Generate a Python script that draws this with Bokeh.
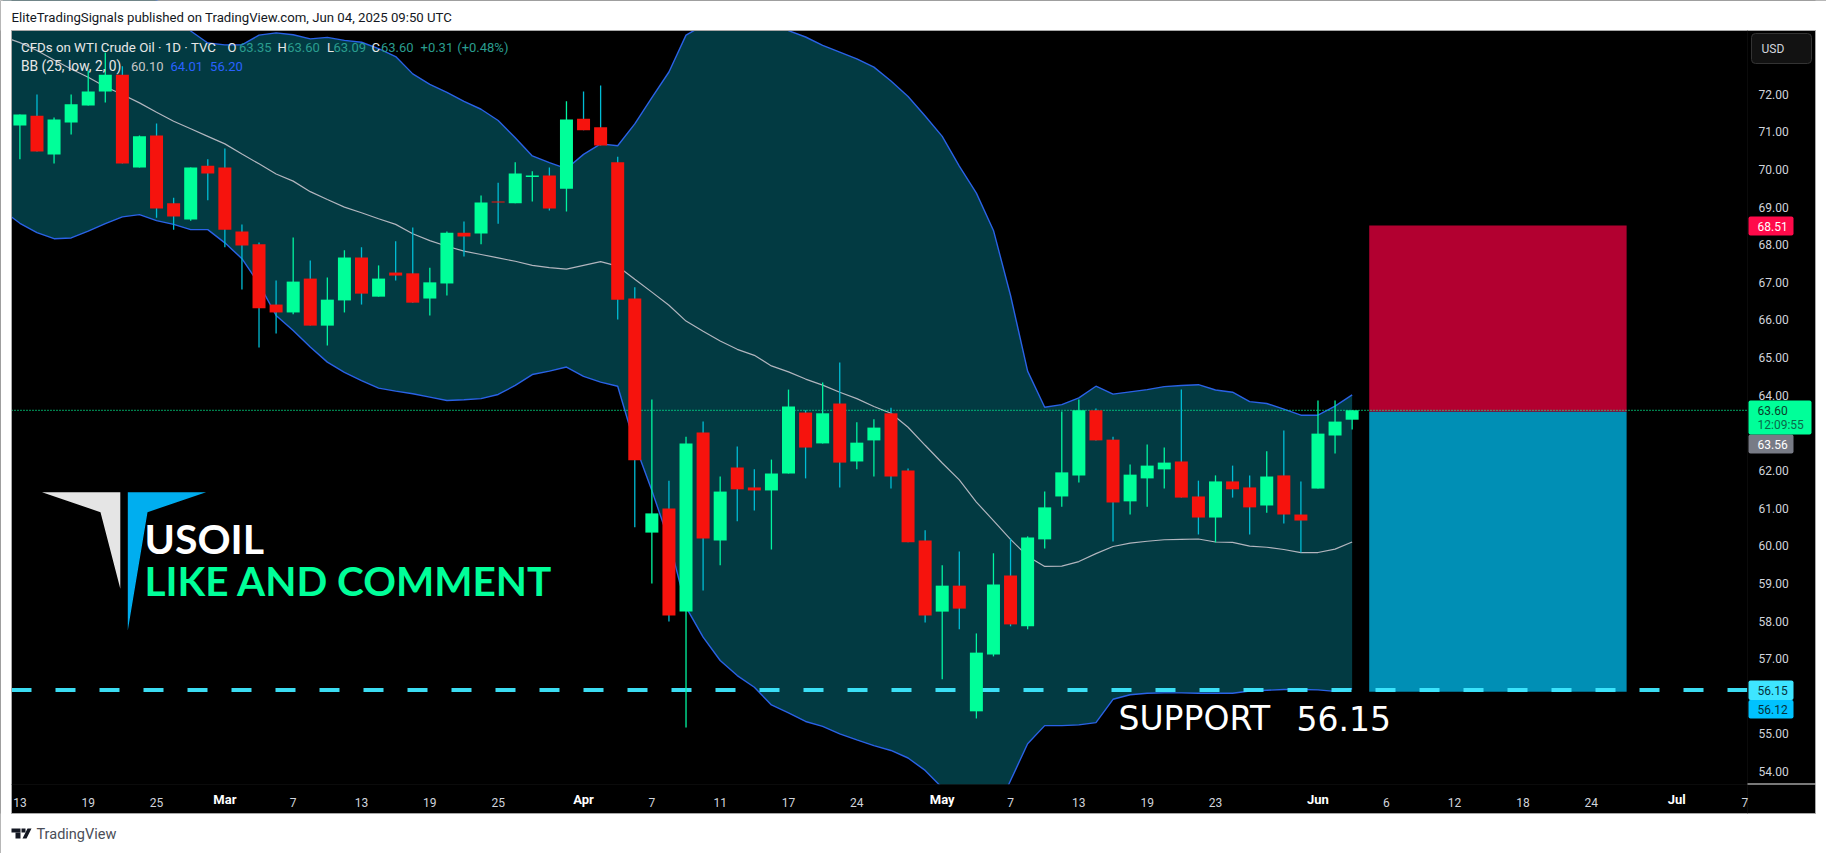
from bokeh.embed import file_html
from bokeh.models import BoxAnnotation, FixedTicker, Label, LinearAxis, PolyAnnotation, Range1d
from bokeh.plotting import figure
from bokeh.resources import INLINE

# candles
opens = [71.17,71.43,70.40,71.25,71.70,72.07,72.52,70.05,70.90,69.10,
         68.67,70.10,70.05,68.35,68.01,66.41,66.20,67.10,65.85,66.52,
         67.66,66.62,67.26,67.24,66.57,66.97,68.32,68.30,69.15,69.10,
         69.80,69.84,69.49,71.35,71.12,70.19,66.57,60.35,60.99,58.25,
         63.01,60.14,62.08,61.55,61.47,61.92,63.54,62.72,63.78,62.24,
         62.80,63.52,62.00,60.14,58.25,58.94,55.60,57.11,59.21,57.86,
         60.17,61.31,61.87,63.60,62.82,61.18,61.79,62.03,62.24,61.31,
         60.75,61.71,61.55,61.07,61.87,60.83,61.52,62.93,63.35]
closes = [71.46,70.48,71.33,71.73,72.07,72.52,70.16,70.88,68.96,68.75,
          70.05,69.89,68.40,67.98,66.31,66.20,67.02,65.85,66.54,67.66,
          66.70,67.10,67.18,66.46,67.00,68.32,68.22,69.12,69.12,69.89,
          69.84,68.96,71.33,71.04,70.64,66.54,62.27,60.86,58.15,62.72,
          60.19,61.44,61.50,61.47,61.92,63.70,62.61,63.52,62.21,62.74,
          63.14,61.84,60.09,58.15,58.94,58.33,57.16,58.97,57.91,60.22,
          61.02,61.95,63.60,62.80,61.15,61.89,62.13,62.21,61.28,60.75,
          61.71,61.50,61.02,61.84,60.83,60.67,62.98,63.30,63.60]
highs = [71.46,71.99,71.38,71.99,72.63,73.11,72.74,70.90,71.22,69.25,
         70.05,70.27,70.56,68.54,68.06,67.05,68.19,67.58,67.13,67.85,
         67.93,67.45,68.09,68.46,67.39,68.35,68.62,69.31,69.65,70.19,
         69.95,70.05,71.81,72.07,72.23,70.34,66.87,63.89,61.73,62.90,
         63.30,61.84,62.64,62.03,62.29,64.15,63.60,64.34,64.87,63.28,
         63.36,63.67,62.05,60.41,59.48,59.85,57.67,59.80,60.19,60.25,
         61.44,63.57,63.89,63.65,62.90,62.16,62.69,62.61,64.15,61.73,
         61.87,62.13,61.87,62.51,63.06,61.71,63.86,63.86,63.60]
lows = [70.27,70.48,70.16,70.93,71.70,71.78,70.16,70.05,68.72,68.40,
        68.64,69.18,67.93,66.81,65.27,65.64,66.15,65.85,65.32,66.20,
        66.41,66.62,67.05,66.46,66.12,66.65,67.69,68.01,68.56,69.10,
        69.15,68.91,68.88,71.04,70.64,66.01,60.49,59.00,57.99,55.17,
        58.81,59.48,60.65,60.94,59.90,61.92,61.79,62.72,61.55,62.03,
        61.84,61.52,60.09,57.96,56.45,57.78,55.41,57.06,57.86,57.78,
        59.93,61.04,61.68,62.80,60.11,60.83,61.04,61.52,61.28,60.30,
        60.09,61.28,60.30,60.88,60.59,59.82,61.52,62.45,63.09]

# bollinger bands start one bar left of the pane
bb_x = list(range(-1, 79))
bb_upper = [75.2,75.2,75.2,75.2,75.2,75.1,75.0,74.9,74.7,74.5,74.1,
            73.68,73.36,73.31,73.31,73.57,73.63,73.58,73.47,73.51,73.43,
            73.38,73.21,73.00,72.54,72.26,72.05,71.81,71.60,71.30,70.84,
            70.36,70.18,70.02,70.40,70.68,70.63,71.21,71.91,72.59,73.57,
            73.83,74.00,74.09,74.09,73.92,73.69,73.52,73.30,73.12,72.94,
            72.72,72.35,71.94,71.42,70.88,70.09,69.37,68.38,66.65,64.64,
            63.68,63.75,63.93,64.24,64.03,64.09,64.15,64.23,64.26,64.28,
            64.14,64.08,63.83,63.78,63.63,63.47,63.47,63.71,64.01]
bb_mid = [73.53,73.37,73.16,72.91,72.67,72.45,72.20,71.99,71.77,71.52,
          71.28,71.08,70.88,70.68,70.41,70.15,69.88,69.69,69.41,69.20,
          69.00,68.85,68.69,68.54,68.29,68.11,67.96,67.83,67.74,67.65,
          67.56,67.45,67.39,67.35,67.45,67.55,67.43,67.08,66.74,66.39,
          65.97,65.70,65.44,65.22,65.06,64.78,64.62,64.43,64.27,64.08,
          63.91,63.70,63.52,63.15,62.67,62.20,61.75,61.16,60.67,60.17,
          59.72,59.45,59.46,59.58,59.79,59.98,60.07,60.12,60.16,60.17,
          60.18,60.10,60.09,59.99,59.96,59.90,59.82,59.82,59.91,60.10]
bb_lower = [68.91,68.57,68.32,68.16,68.18,68.36,68.56,68.74,68.80,68.64,
            68.54,68.40,68.40,68.05,67.63,66.96,66.12,65.72,65.28,64.88,
            64.61,64.39,64.19,64.11,64.04,63.95,63.86,63.88,63.91,64.02,
            64.26,64.55,64.64,64.75,64.50,64.35,64.24,62.70,61.47,60.14,
            58.37,57.57,56.95,56.55,56.24,55.77,55.56,55.33,55.20,55.00,
            54.84,54.69,54.56,54.36,54.03,53.57,53.05,52.61,52.79,53.76,
            54.74,55.22,55.22,55.24,55.30,55.92,56.04,56.08,56.09,56.09,
            56.08,56.08,56.08,56.14,56.16,56.18,56.18,56.17,56.13,56.20]

last_price = 63.60
support = 56.17
stop_level = 68.51
entry_level = 63.56
target_level = 56.12
box_start, box_end = 79, 94.07

price_ticks = [72,71,70,69,68,67,66,65,64,62,61,60,59,58,57,55,54]
day_ticks = {0:"13",4:"19",8:"25",16:"7",20:"13",24:"19",28:"25",37:"7",41:"11",45:"17",49:"24",
             58:"7",62:"13",66:"19",70:"23",80:"6",84:"12",88:"18",92:"24",101:"7"}
month_ticks = {12:"Mar",33:"Apr",54:"May",76:"Jun",97:"Jul"}

# the frame fills the page so overlays can sit anywhere, these are the pane edges as bar / price
PANE_X0, PANE_X1 = -0.492, 101.15
PANE_Y0 = 53.66
W, H = 1826, 853
FONT = "Roboto"

def sx(px):
    return px

def sy(py):
    return H - py

p = figure(width=W, height=H, output_backend="svg", toolbar_location=None,
           x_range=Range1d(-1.136, 105.773), y_range=Range1d(51.822, 74.490),
           x_axis_location=None, y_axis_location=None,
           min_border_left=0, min_border_right=0, min_border_top=0, min_border_bottom=0,
           background_fill_color="#000000", border_fill_color="#ffffff",
           outline_line_color=None)
p.grid.visible = False

yaxis = LinearAxis(ticker=FixedTicker(ticks=price_ticks), fixed_location=PANE_X1, axis_line_color=None,
                   major_tick_line_color=None, minor_tick_line_color=None,
                   major_label_text_color="#d1d4dc", major_label_text_font=FONT,
                   major_label_text_font_size="12px", major_label_standoff=5, level="overlay")
yaxis.major_label_overrides = {t: "%.2f" % t for t in price_ticks}
p.add_layout(yaxis, "right")

xaxis = LinearAxis(ticker=FixedTicker(ticks=list(day_ticks)), fixed_location=PANE_Y0, axis_line_color=None,
                   major_tick_line_color=None, minor_tick_line_color=None,
                   major_label_overrides=day_ticks, major_label_text_color="#d1d4dc",
                   major_label_text_font=FONT, major_label_text_font_size="12px",
                   major_label_standoff=8, level="overlay")
p.add_layout(xaxis, "below")

# bollinger
p.varea(bb_x, bb_lower, bb_upper, fill_color="#023a42")
p.line(bb_x, bb_upper, line_color="#2a62e6", line_width=1.4)
p.line(bb_x, bb_lower, line_color="#2a62e6", line_width=1.4)
p.line(bb_x, bb_mid, line_color="#b2b5be", line_width=1.2)

# short position box
p.quad(left=box_start, right=box_end, bottom=entry_level, top=stop_level, fill_color="#b20030", line_color=None)
p.quad(left=box_start, right=box_end, bottom=target_level, top=entry_level, fill_color="#008fb5", line_color=None)

p.line([PANE_X0, PANE_X1], [last_price, last_price], line_color="#00ff99", line_width=1.2, line_dash="1 2")
p.line([PANE_X0, PANE_X1], [support, support], line_color="#3ee8ff", line_alpha=0.95, line_width=4, line_dash="20 24")

# candles
UP, DOWN = "#00ff99", "#f6130d"
WICK_UP, WICK_DOWN = "#00f5a0", "#00bcd4"
xs = list(range(len(opens)))
wick_colors = [WICK_UP if c >= o else WICK_DOWN for o, c in zip(opens, closes)]
body_colors = [UP if c >= o else DOWN for o, c in zip(opens, closes)]
p.segment(xs, lows, xs, highs, line_color=wick_colors, line_width=1.3)
p.vbar(x=xs, bottom=[min(o, c) for o, c in zip(opens, closes)], top=[max(o, c) for o, c in zip(opens, closes)],
       width=0.761, fill_color=body_colors, line_color=None)


def box(left, right, top, bottom, color, line=None, radius=0, level="annotation"):
    b = BoxAnnotation(left=sx(left), right=sx(right), top=sy(top), bottom=sy(bottom),
                      left_units="screen", right_units="screen", top_units="screen", bottom_units="screen",
                      fill_color=color, fill_alpha=1 if color else 0, line_color=line, line_width=1,
                      line_alpha=1 if line else 0, border_radius=radius, level=level)
    p.add_layout(b)


def poly(points, color, level="annotation"):
    p.add_layout(PolyAnnotation(xs=[sx(a) for a, b in points], ys=[sy(b) for a, b in points],
                                xs_units="screen", ys_units="screen", fill_color=color, fill_alpha=1,
                                line_alpha=0, level=level))


def text(s, x, y, size, color, font=FONT, align="left", style="normal"):
    p.add_layout(Label(x=sx(x), y=sy(y), x_units="screen", y_units="screen", text=s, text_color=color,
                       text_font=font, text_font_size="%gpx" % size, text_align=align,
                       text_baseline="middle", text_font_style=style, level="overlay"))


# black scale areas hide whatever runs out of the pane, then the white page round the chart
box(11, 1815, 784, 813, "#000000")
box(1747, 1815, 30, 813, "#000000")
box(0, 11, 0, H, "#ffffff")
box(1815, W, 0, H, "#ffffff")
box(0, W, 0, 30, "#ffffff")
box(0, W, 813, H, "#ffffff")
box(11, 1815, 30, 813, None, line="#a8a8a8")

# pane separators
box(1747, 1747.5, 30, 813, "#161616")
box(11, 1747, 784, 784.5, "#161616")
box(1747, 1815, 783, 784, "#f0f0f0")

# months are bold, they sit on the day axis row
for bar, name in month_ticks.items():
    p.add_layout(Label(x=bar, y=sy(799), x_units="data", y_units="screen", text=name, text_color="#ffffff",
                       text_font=FONT, text_font_size="13px", text_font_style="bold", text_align="center",
                       text_baseline="middle", level="overlay"))

# header, footer
text("EliteTradingSignals published on TradingView.com, Jun 04, 2025 09:50 UTC", 11, 17, 13.2, "#131722")
box(11, 20, 828, 832, "#131722")
box(15, 20, 832, 838, "#131722")
poly([(27, 828), (31, 828), (26, 838), (22, 838)], "#131722")
box(21, 25, 828, 832, "#131722")
text("TradingView", 36, 834, 14.5, "#4a4d57")

# legend
text("CFDs on WTI Crude Oil \u00b7 1D \u00b7 TVC", 20.5, 46.5, 13.3, "#e8e8e8")
VAL = "#2a9d8f"
for s, x, c in [("O", 227, "#e8e8e8"), ("63.35", 238.4, VAL), ("H", 277, "#e8e8e8"), ("63.60", 286.7, VAL),
                ("L", 326.6, "#e8e8e8"), ("63.09", 333, VAL), ("C", 371, "#e8e8e8"), ("63.60", 380.4, VAL),
                ("+0.31", 420, VAL), ("(+0.48%)", 456.7, VAL)]:
    text(s, x, 46.5, 13, c)
text("BB (25, low, 2, 0)", 20.5, 65.5, 13.8, "#e8e8e8")
text("60.10", 130.5, 65.5, 13, "#c8c8c8")
text("64.01", 170, 65.5, 13, "#2962ff")
text("56.20", 209.6, 65.5, 13, "#2962ff")

# logo and big texts
poly([(41.5, 491.7), (119.8, 491.7), (119.8, 588.3), (100, 511.7)], "#e5e5e5")
poly([(127.3, 491.7), (205.6, 491.7), (147, 511.7), (127.3, 630)], "#00aeef")
text("USOIL", 144, 538, 41, "#ffffff", font="Lato", style="bold")
text("LIKE AND COMMENT", 144, 580, 40.5, "#00ff99", font="Lato", style="bold")
text("SUPPORT", 1118, 717.5, 33, "#ffffff", font="DejaVu Sans")
text("56.15", 1296, 717.5, 33, "#ffffff", font="DejaVu Sans")

# price scale
box(1751, 1811, 33, 63, "#121212", line="#333333", radius=4)
text("USD", 1761, 48.5, 12, "#d1d4dc")
box(1748, 1793, 216, 235, "#ff0a4a", radius=2)
text("68.51", 1757, 225.5, 12, "#ffffff")
box(1748, 1793, 434, 453, "#787b86", radius=2)
text("63.56", 1757, 443.5, 12, "#ffffff")
box(1748, 1811, 400, 434, "#00ff99", radius=2)
text("63.60", 1757, 409.5, 12, "#0a3d2a")
text("12:09:55", 1757, 424.5, 12, "#0a6a4a")
box(1748, 1793, 680, 699.5, "#3ee5ff", radius=2)
text("56.15", 1757, 690, 12, "#06323a")
box(1748, 1793, 699.5, 718, "#00c2ff", radius=2)
text("56.12", 1757, 709, 12, "#06323a")

open("out.html", "w").write(file_html(p, INLINE))
